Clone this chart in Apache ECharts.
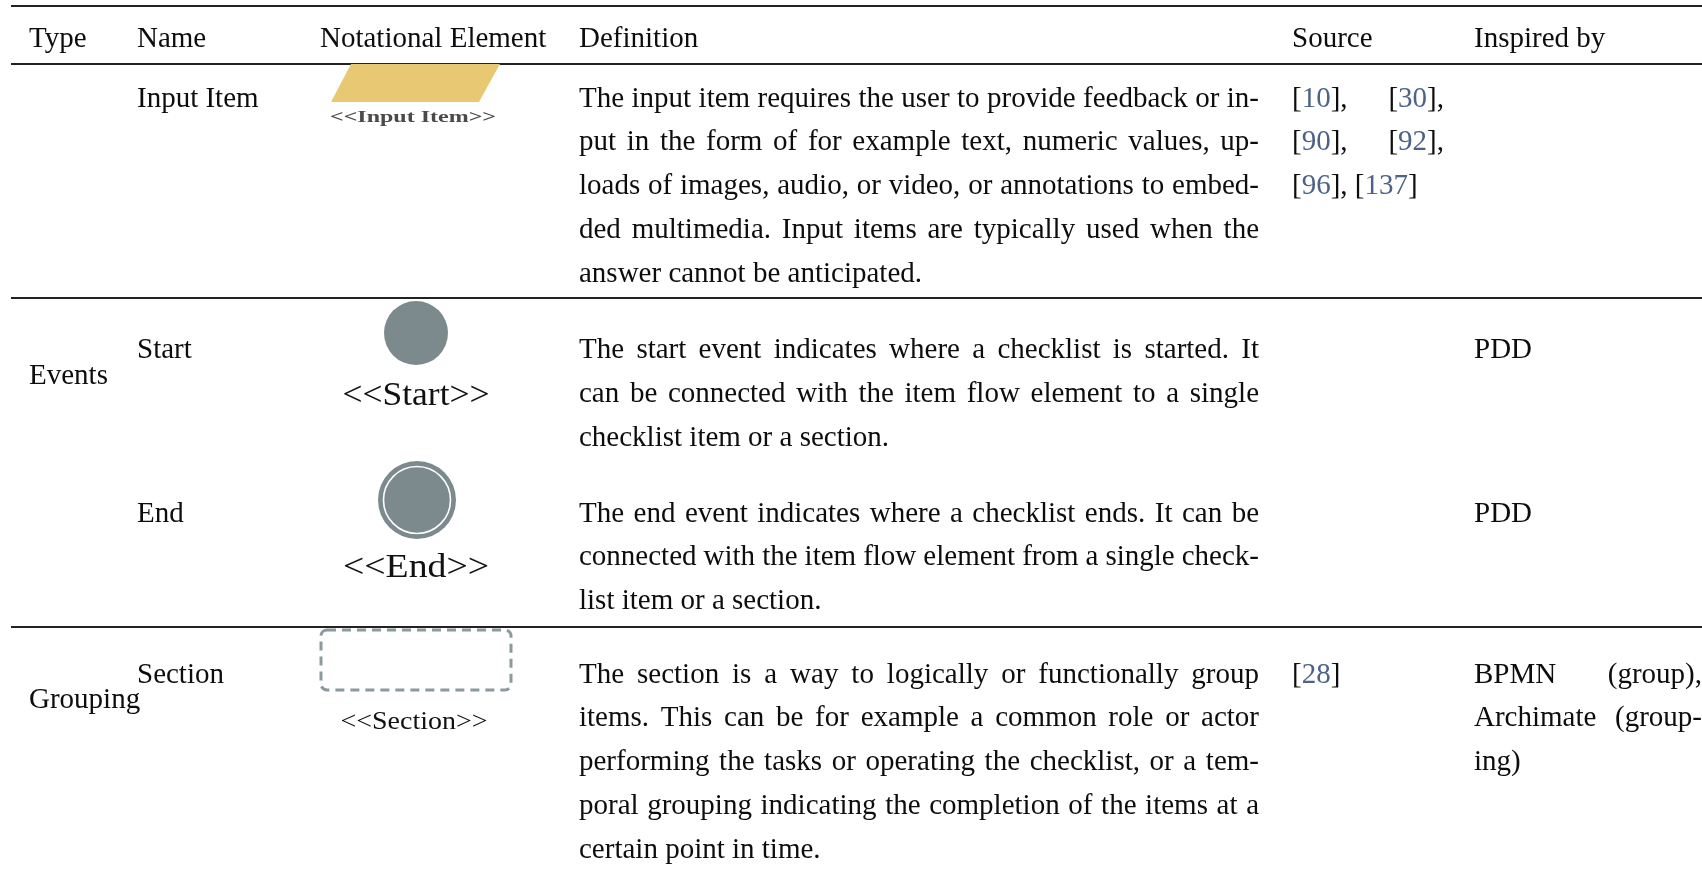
<!DOCTYPE html>
<html>
<head>
<meta charset="utf-8">
<script src="https://cdn.jsdelivr.net/npm/echarts@6/dist/echarts.min.js"></script>
<style>
  html, body { margin: 0; padding: 0; background: #ffffff; }
  #chart { width: 1702px; height: 870px; }
</style>
</head>
<body>
<div id="chart"></div>
<script>
// ---------------- DATA ----------------
const headers = ['Type', 'Name', 'Notational Element', 'Definition', 'Source', 'Inspired by'];
const types = ['', 'Events', 'Grouping'];
const names = ['Input Item', 'Start', 'End', 'Section'];
const symbolLabels = ['<<Input Item>>', '<<Start>>', '<<End>>', '<<Section>>'];
const definitions = [
  ['The input item requires the user to provide feedback or in-',
   'put in the form of for example text, numeric values, up-',
   'loads of images, audio, or video, or annotations to embed-',
   'ded multimedia.  Input items are typically used when the',
   'answer cannot be anticipated.'],
  ['The start event indicates where a checklist is started.  It',
   'can be connected with the item flow element to a single',
   'checklist item or a section.'],
  ['The end event indicates where a checklist ends.  It can be',
   'connected with the item flow element from a single check-',
   'list item or a section.'],
  ['The section is a way to logically or functionally group',
   'items.  This can be for example a common role or actor',
   'performing the tasks or operating the checklist, or a tem-',
   'poral grouping indicating the completion of the items at a',
   'certain point in time.']
];
const sources = [
  ['[10], [30],', '[90], [92],', '[96], [137]'],
  [],
  [],
  ['[28]']
];
const inspiredBy = [
  [],
  ['PDD'],
  ['PDD'],
  ['BPMN (group),', 'Archimate (group-', 'ing)']
];

// ---------------- LAYOUT / STYLE ----------------
const FONT_FAMILY = '"Liberation Serif", "Times New Roman", serif';
const FS = 29;
const FONT = FS + 'px ' + FONT_FAMILY;
const TEXT = '#0d0d0d';
const CITE = '#4d6386';
const GREY = '#7c8a8e';
const colX = [29, 137, 320, 579, 1292, 1474];
const colRight = { 3: 1259, 4: 1444, 5: 1702 };
const headerY = 39;
const ruleY = [6, 64, 298, 627];
const rowY = [99, 350.5, 514, 675];
const typeY = [null, 376.5, 700];
const lineH = 43.8;

const ctx = document.createElement('canvas').getContext('2d');
function measure(t, font) { ctx.font = font || FONT; return ctx.measureText(t).width; }

const els = [];
function txt(t, x, y, opts) {
  opts = opts || {};
  els.push({
    type: 'text', x: x, y: y,
    scaleX: opts.scaleX || 1,
    style: {
      text: t, font: opts.font || FONT, fill: opts.fill || TEXT,
      align: opts.align || 'left', verticalAlign: 'middle'
    }
  });
}
// draws a word possibly containing coloured citation numbers
function word(w, x, y) {
  const parts = w.split(/(\d+)/).filter(s => s.length);
  let cx = x;
  parts.forEach(p => {
    txt(p, cx, y, { fill: /^\d+$/.test(p) ? CITE : TEXT });
    cx += measure(p);
  });
}
function para(lines, x0, x1, y0) {
  lines.forEach((ln, i) => {
    const y = y0 + i * lineH;
    const words = ln.split(/\s+/).filter(s => s.length);
    const last = i === lines.length - 1;
    if (last || words.length < 2) {
      let cx = x0;
      const sp = measure(' ');
      words.forEach(w => { word(w, cx, y); cx += measure(w) + sp; });
    } else {
      const total = words.reduce((a, w) => a + measure(w), 0);
      const gap = (x1 - x0 - total) / (words.length - 1);
      let cx = x0;
      words.forEach(w => { word(w, cx, y); cx += measure(w) + gap; });
    }
  });
}

// rules
ruleY.forEach(y => {
  els.push({ type: 'line', shape: { x1: 11, y1: y, x2: 1702, y2: y },
             style: { stroke: '#222222', lineWidth: 1.8 } });
});

// header
headers.forEach((h, i) => txt(h, colX[i], headerY));

// type labels
types.forEach((t, i) => { if (t) txt(t, colX[0], typeY[i]); });

// rows
names.forEach((n, r) => {
  txt(n, colX[1], rowY[r]);
  para(definitions[r], colX[3], colRight[3], rowY[r]);
  if (sources[r].length) para(sources[r], colX[4], colRight[4], rowY[r]);
  if (inspiredBy[r].length) para(inspiredBy[r], colX[5], colRight[5], rowY[r]);
});

// notational symbols
// Input item: parallelogram
els.push({ type: 'polygon',
  shape: { points: [[351, 64], [500, 64], [479, 102], [331, 102]] },
  style: { fill: '#e9c874' } });
// Start: filled circle
els.push({ type: 'circle', shape: { cx: 416, cy: 333, r: 32 }, style: { fill: GREY } });
// End: double circle
els.push({ type: 'circle', shape: { cx: 417, cy: 500, r: 39 }, style: { fill: GREY } });
els.push({ type: 'circle', shape: { cx: 417, cy: 500, r: 33.5 },
           style: { fill: GREY, stroke: '#ffffff', lineWidth: 1.6 } });
// Section: dashed rounded rectangle
els.push({ type: 'rect', shape: { x: 321, y: 630, width: 190, height: 60, r: 6 },
           style: { fill: 'none', stroke: '#8c999d', lineWidth: 3, lineDash: [9, 6] } });

// symbol labels (fit to widths)
const labelCfg = [
  { x: 413, y: 118, font: 'bold 17px ' + FONT_FAMILY, w: 166, fill: '#4a4a4a' },
  { x: 416, y: 396, font: '33px ' + FONT_FAMILY, w: 147, fill: '#111111' },
  { x: 416, y: 568, font: '33px ' + FONT_FAMILY, w: 146, fill: '#111111' },
  { x: 414, y: 722, font: '26px ' + FONT_FAMILY, w: 147, fill: '#111111' }
];
symbolLabels.forEach((s, i) => {
  const c = labelCfg[i];
  const sx = c.w / measure(s, c.font);
  els.push({
    type: 'text', x: c.x, y: c.y, scaleX: sx,
    style: { text: s, font: c.font, fill: c.fill, align: 'center', verticalAlign: 'middle' }
  });
});

const chart = echarts.init(document.getElementById('chart'), null, { renderer: 'canvas' });
chart.setOption({
  backgroundColor: '#ffffff',
  animation: false,
  graphic: { elements: els }
});
</script>
</body>
</html>
